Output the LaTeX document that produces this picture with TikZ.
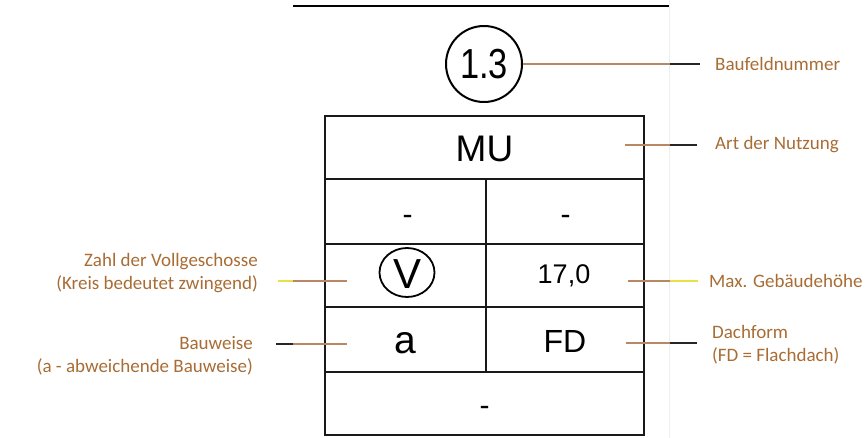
\documentclass[tikz,border=0pt]{standalone}
\usepackage{fontspec}
\newfontfamily\arialf{Liberation Sans}
\newfontfamily\calf{Carlito}
\usetikzlibrary{shapes.geometric}
\definecolor{labbrown}{RGB}{168,108,52}
\definecolor{linebrown}{RGB}{185,135,100}
\definecolor{lineyellow}{RGB}{232,224,70}
\definecolor{faint}{RGB}{238,238,238}
\tikzset{
  celltext/.style={inner sep=0pt, anchor=base, font=\arialf},
  lab/.style={inner sep=0pt, font=\calf\fontsize{19}{23}\selectfont, text=labbrown},
  frame/.style={line width=2.6pt, draw=black!90},
  brownseg/.style={line width=1.4pt, draw=linebrown},
  blackseg/.style={line width=1.4pt, draw=black!85},
  yellowseg/.style={line width=1.4pt, draw=lineyellow},
}
\begin{document}
\begin{tikzpicture}[x=1pt,y=-1pt]
\useasboundingbox (0,0) rectangle (866,438);
% faint page edge and top rule
\draw[faint, line width=0.8pt] (669,0) -- (669,438);
\draw[line width=2pt] (293,6) -- (669,6);
% circle with field number
\node[circle, draw, line width=2pt, minimum size=76pt, inner sep=0pt, font=\arialf] (num) at (484,64)
  {\fontsize{42}{42}\selectfont\scalebox{0.82}[1]{1.3}};
% table
\draw[frame] (325,116) rectangle (644,435);
\draw[frame] (325,179) -- (644,179);
\draw[frame] (325,244) -- (644,244);
\draw[frame] (325,307) -- (644,307);
\draw[frame] (325,372) -- (644,372);
\draw[frame] (486,179) -- (486,372);
% cell contents
\node[celltext, font=\arialf\fontsize{37}{37}\selectfont] (mu) at (484.5,162) {MU};
\node[celltext, font=\arialf\fontsize{30}{30}\selectfont] (d1) at (407.5,224) {-};
\node[celltext, font=\arialf\fontsize{30}{30}\selectfont] (d2) at (565.5,224) {-};
\node[ellipse, draw, line width=1.8pt, minimum width=55pt, minimum height=49pt, inner sep=0pt] (vring) at (407,272.5) {};
\node[celltext, font=\arialf\fontsize{42}{42}\selectfont] (v) at (407,288) {V};
\node[celltext, font=\arialf\fontsize{27}{27}\selectfont] (h) at (564,283) {17,0};
\node[celltext, font=\arialf\fontsize{39}{39}\selectfont] (a) at (405,353) {a};
\node[celltext, font=\arialf\fontsize{32}{32}\selectfont] (fd) at (565,352) {FD};
\node[celltext, font=\arialf\fontsize{30}{30}\selectfont] (d3) at (484.5,415) {-};
% labels
\node[lab, anchor=west] (lbau) at (715,64) {Baufeldnummer};
\node[lab, anchor=west] (lart) at (715,145) {Art der Nutzung};
\node[lab, anchor=east, align=right] (lzahl) at (258,273.5) {Zahl der Vollgeschosse\\(Kreis bedeutet  zwingend)};
\node[lab, anchor=west] (lmax) at (709,281) {Max. Gebäudehöhe};
\node[lab, anchor=east, align=right] (lweise) at (253,356) {Bauweise\\(a - abweichende Bauweise)};
\node[lab, anchor=west, align=left] (ldach) at (712,344.5) {Dachform\\(FD = Flachdach)};
% connector points
\coordinate (jb) at (670,64);   \coordinate (eb) at (700,64);
\coordinate (sa) at (625,145);  \coordinate (ja) at (670,145);  \coordinate (ea) at (697,145);
\coordinate (sz) at (347,281);  \coordinate (jz) at (293,281);  \coordinate (ez) at (278,281);
\coordinate (sm) at (628,281);  \coordinate (jm) at (670,281);  \coordinate (em) at (698,281);
\coordinate (sw) at (347,344);  \coordinate (jw) at (293,344);  \coordinate (ew) at (276,344);
\coordinate (sd) at (626,343);  \coordinate (jd) at (670,343);  \coordinate (ed) at (697,343);
% connectors
\draw[brownseg] (num.east) -- (jb);  \draw[blackseg] (jb) -- (eb);
\draw[brownseg] (sa) -- (ja);        \draw[blackseg] (ja) -- (ea);
\draw[brownseg] (sz) -- (jz);        \draw[yellowseg] (jz) -- (ez);
\draw[brownseg] (sm) -- (jm);        \draw[yellowseg] (jm) -- (em);
\draw[brownseg] (sw) -- (jw);        \draw[blackseg] (jw) -- (ew);
\draw[brownseg] (sd) -- (jd);        \draw[blackseg] (jd) -- (ed);
\end{tikzpicture}
\end{document}
